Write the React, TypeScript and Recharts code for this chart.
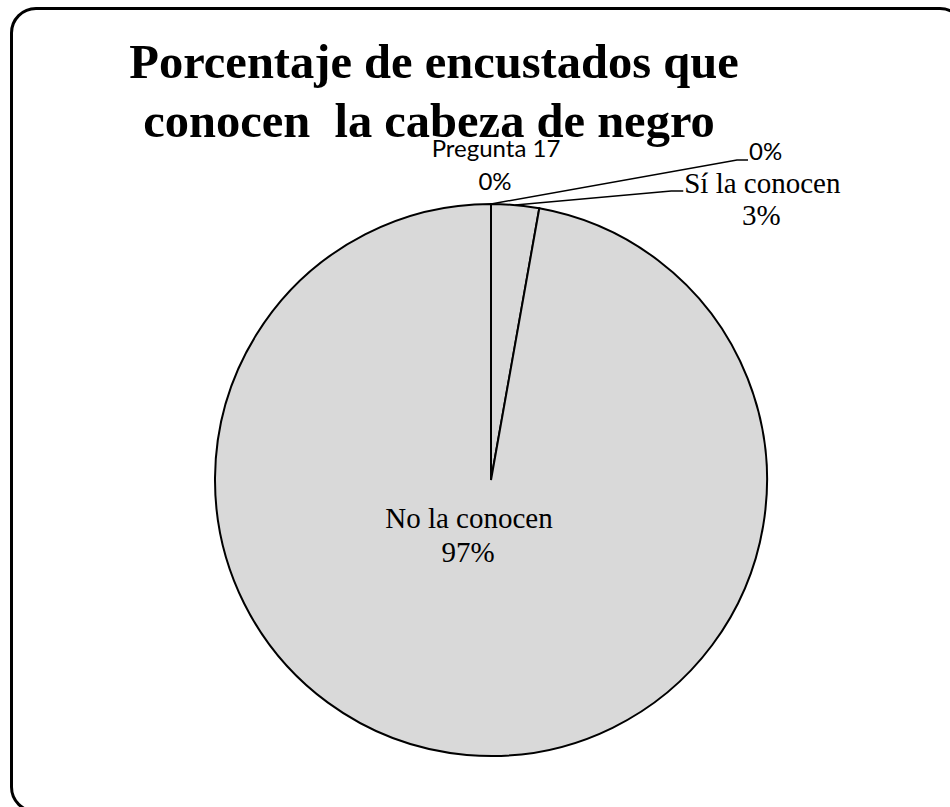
import React from 'react';
import { PieChart, Pie, Cell } from 'recharts';

const categories = ['Pregunta 17', '', 'Sí la conocen', 'No la conocen'];
const values = [0, 0, 2.8, 97.2];
const titleLines = ['Porcentaje de encustados que', 'conocen  la cabeza de negro'];

const data = categories.map((name, i) => ({ name, value: values[i] }));

const RADIAN = Math.PI / 180;
const serif = '"Liberation Serif", "Times New Roman", serif';
const sans = 'Lato, "Open Sans", sans-serif';

const renderLabel = (props: any) => {
  const { cx, cy, midAngle, outerRadius, index, percent, name } = props;
  const px = cx + outerRadius * Math.cos(-midAngle * RADIAN);
  const py = cy + outerRadius * Math.sin(-midAngle * RADIAN);
  const pct = `${Math.round(percent * 100)}%`;

  if (index === 0) {
    return (
      <g key={`l${index}`}>
        <text x={px + 5} y={py - 47} textAnchor="middle" fontFamily={sans} fontSize={24} fill="#000">{name}</text>
        <text x={px + 4} y={py - 14} textAnchor="middle" fontFamily={sans} fontSize={24} fill="#000">{pct}</text>
      </g>
    );
  }
  if (index === 1) {
    return (
      <g key={`l${index}`}>
        <polyline points={`${px},${py} ${px + 246},${py - 44} ${px + 257},${py - 44}`} fill="none" stroke="#000" strokeWidth={1.5} />
        <text x={px + 258} y={py - 44} textAnchor="start" fontFamily={sans} fontSize={24} fill="#000">{pct}</text>
      </g>
    );
  }
  if (index === 2) {
    return (
      <g key={`l${index}`}>
        <polyline points={`${px},${py} ${px + 156},${py - 14} ${px + 168},${py - 14}`} fill="none" stroke="#000" strokeWidth={1.5} />
        <text x={px + 169} y={py - 12} textAnchor="start" fontFamily={serif} fontSize={29} fill="#000">{name}</text>
        <text x={px + 246} y={py + 20} textAnchor="middle" fontFamily={serif} fontSize={29} fill="#000">{pct}</text>
      </g>
    );
  }
  return (
    <g key={`l${index}`}>
      <text x={cx - 22} y={cy + 48} textAnchor="middle" fontFamily={serif} fontSize={29} fill="#000">{name}</text>
      <text x={cx - 23} y={cy + 82} textAnchor="middle" fontFamily={serif} fontSize={29} fill="#000">{pct}</text>
    </g>
  );
};

export default function App() {
  return (
    <div style={{ position: 'absolute', left: 0, top: 0, width: 950, height: 807, overflow: 'hidden', background: '#fff' }}>
      <div
        style={{
          position: 'absolute',
          left: 10,
          top: 7,
          width: 950,
          height: 800,
          border: '3px solid #000',
          borderRadius: 26,
        }}
      />
      <svg width={950} height={170} style={{ position: 'absolute', left: 0, top: 0 }}>
        <text x={434} y={78} textAnchor="middle" fontFamily={serif} fontWeight="bold" fontSize={48.5} fill="#000">
          {titleLines[0]}
        </text>
        <text x={429} y={137} textAnchor="middle" fontFamily={serif} fontWeight="bold" fontSize={48.5} fill="#000" style={{ whiteSpace: 'pre' }}>
          {titleLines[1]}
        </text>
      </svg>
      <div style={{ position: 'absolute', left: 0, top: 0 }}>
        <PieChart width={950} height={807} margin={{ top: 0, right: 0, bottom: 0, left: 0 }}>
          <Pie
            data={data}
            dataKey="value"
            nameKey="name"
            cx={491}
            cy={480}
            outerRadius={276}
            startAngle={90}
            endAngle={-270}
            stroke="#000"
            strokeWidth={2}
            label={renderLabel}
            labelLine={false}
            isAnimationActive={false}
          >
            {data.map((d, i) => (
              <Cell key={d.name + i} fill="#d9d9d9" />
            ))}
          </Pie>
        </PieChart>
      </div>
    </div>
  );
}
